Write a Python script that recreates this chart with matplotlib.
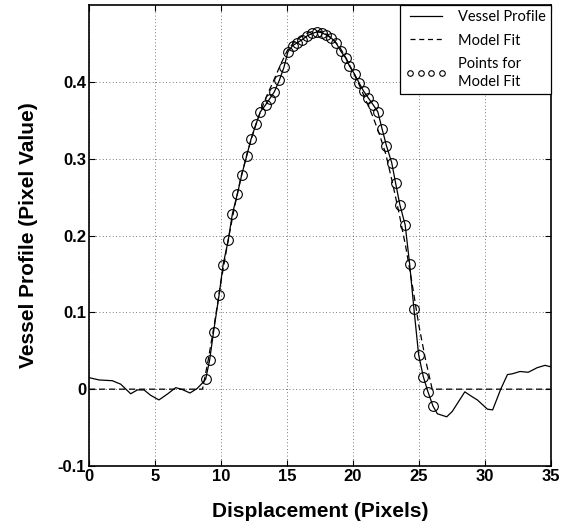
import numpy as np
import matplotlib
matplotlib.use("Agg")
import matplotlib.pyplot as plt
from matplotlib.lines import Line2D

# vessel profile (solid) - baseline, then the fitted points, then right tail
base_left_x = [0.0, 0.76, 1.77, 2.4, 3.16, 3.66, 4.17, 4.67, 5.3, 5.93, 6.57, 7.07, 7.65, 8.2, 8.59]
base_left_y = [0.015, 0.012, 0.011, 0.0065, -0.006, -0.001, -0.001, -0.008, -0.014, -0.0065, 0.002, -0.0005, -0.005, 0.001, 0.008]

fit_pts_x = [8.84, 9.14, 9.44, 9.85, 10.16, 10.55, 10.86, 11.24, 11.57, 11.95,
             12.27, 12.65, 12.98, 13.38, 13.69, 14.04, 14.42, 14.77, 15.07, 15.42,
             15.78, 16.16, 16.54, 16.92, 17.28, 17.63, 17.98, 18.36, 18.74, 19.07,
             19.45, 19.72, 20.12, 20.45, 20.8, 21.16, 21.53, 21.88, 22.2, 22.53,
             22.93, 23.23, 23.55, 23.95, 24.29, 24.62, 24.97, 25.33, 25.68, 26.06]
fit_pts_y = [0.013, 0.038, 0.075, 0.122, 0.162, 0.194, 0.228, 0.254, 0.279, 0.304,
             0.325, 0.345, 0.361, 0.370, 0.378, 0.387, 0.402, 0.419, 0.439, 0.447,
             0.451, 0.455, 0.460, 0.463, 0.465, 0.464, 0.461, 0.457, 0.450, 0.440,
             0.431, 0.421, 0.410, 0.399, 0.388, 0.379, 0.370, 0.361, 0.339, 0.317,
             0.295, 0.268, 0.240, 0.214, 0.163, 0.104, 0.045, 0.016, -0.0035, -0.022]

base_right_x = [26.39, 27.1, 27.52, 28.47, 29.04, 29.42, 30.18, 30.58, 31.18, 31.7,
                32.07, 32.65, 33.28, 33.96, 34.55, 35.0]
base_right_y = [-0.032, -0.036, -0.029, -0.0035, -0.010, -0.014, -0.026, -0.027, -0.0005, 0.019,
                0.020, 0.023, 0.022, 0.028, 0.031, 0.029]

# model fit (dashed)
model_x = [0.0, 8.6, 9.0, 9.5, 10.0, 10.5, 11.0, 11.5, 12.0, 12.5, 13.0, 13.5, 14.0,
           14.5, 15.0, 15.5, 16.0, 16.5, 17.0, 17.5, 18.0, 18.5, 19.0, 19.5, 20.0,
           20.5, 21.0, 21.5, 22.0, 22.5, 23.0, 23.5, 24.0, 24.5, 25.0, 25.5, 26.0, 35.0]
model_y = [0.0, 0.0, 0.035, 0.085, 0.14, 0.19, 0.235, 0.275, 0.308, 0.337, 0.362, 0.383, 0.402,
           0.422, 0.440, 0.451, 0.458, 0.463, 0.466, 0.466, 0.462, 0.455, 0.445, 0.43, 0.413,
           0.395, 0.375, 0.355, 0.332, 0.305, 0.268, 0.228, 0.185, 0.135, 0.082, 0.038, 0.0, 0.0]

xticks = [0, 5, 10, 15, 20, 25, 30, 35]
yticks = [-0.1, 0.0, 0.1, 0.2, 0.3, 0.4]
ytick_labels = ["-0.1", "0", "0.1", "0.2", "0.3", "0.4"]

profile_x = base_left_x + fit_pts_x + base_right_x
profile_y = base_left_y + fit_pts_y + base_right_y

fig = plt.figure(figsize=(5.61, 5.27), dpi=100)
ax = fig.add_axes([89 / 561, 1 - 466 / 527, (551 - 89) / 561, (466 - 5) / 527])

ax.plot(profile_x, profile_y, color="black", lw=0.9, zorder=3)
ax.plot(model_x, model_y, color="black", lw=0.9, ls=(0, (5, 3)), zorder=3)
ax.plot(fit_pts_x, fit_pts_y, ls="none", marker="o", ms=7, mfc="none",
        mec="black", mew=0.8, zorder=4)

ax.set_xlim(0, 35)
ax.set_ylim(-0.1, 0.5)
ax.set_xticks(xticks)
ax.set_yticks(yticks)
ax.set_yticklabels(ytick_labels)
ax.grid(True, ls=(0, (1, 3)), color="black", lw=0.6, alpha=0.7)
ax.tick_params(direction="in", top=True, right=True, length=4, width=0.8, pad=2,
               labelsize=12)
for lab in ax.get_xticklabels() + ax.get_yticklabels():
    lab.set_fontweight("bold")
    lab.set_family("Liberation Sans")
for sp in ax.spines.values():
    sp.set_linewidth(1.2)

ax.set_xlabel("Displacement (Pixels)", fontsize=15, fontweight="bold",
              family="Liberation Sans", labelpad=13)
ax.set_ylabel("Vessel Profile (Pixel Value)", fontsize=15, fontweight="bold",
              family="Liberation Sans", labelpad=14)

handles = [
    Line2D([], [], color="black", lw=0.9),
    Line2D([], [], color="black", lw=0.9, ls=(0, (4, 3))),
    Line2D([], [], ls="none", marker="o", ms=4, mfc="none", mec="black", mew=0.8),
]
labels = ["Vessel Profile", "Model Fit", "Points for\nModel Fit"]
leg = ax.legend(handles, labels, loc="upper right", bbox_to_anchor=(1.0, 1.0),
                fancybox=False, framealpha=1, edgecolor="black", borderaxespad=0,
                handlelength=2.8, numpoints=4, prop={"family": "Lato", "size": 10.5},
                labelspacing=0.65, handletextpad=0.8, borderpad=0.35)
leg.get_frame().set_linewidth(0.9)
for t in leg.get_texts():
    t.set_linespacing(1.35)

fig.savefig("out.png", dpi=100)
